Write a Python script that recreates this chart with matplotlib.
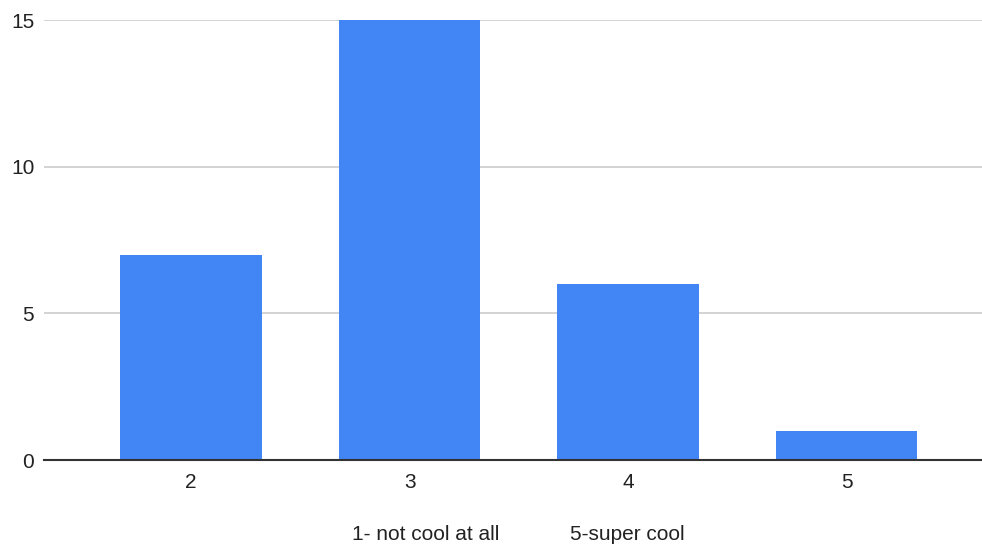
import matplotlib.pyplot as plt

plt.rcParams['font.family'] = ['Liberation Sans', 'DejaVu Sans']

ratings = ['2', '3', '4', '5']
counts = [7, 15, 6, 1]
yticks = [0, 5, 10, 15]

fig = plt.figure(figsize=(9.82, 5.46), dpi=100)
ax = fig.add_axes([44 / 982, 86 / 546, 938 / 982, 440 / 546])

x = range(len(ratings))
ax.bar(x, counts, width=0.648, color='#4285f4', zorder=3)

ax.set_xlim(-0.674, 3.62)
ax.set_ylim(0, 15)
ax.set_yticks(yticks)
ax.set_xticks(list(x))
ax.set_xticklabels(ratings)
ax.yaxis.grid(True, color='#cccccc', linewidth=1.2, zorder=0)
ax.tick_params(axis='both', length=0, labelsize=15, colors='#222222')
ax.tick_params(axis='y', pad=7)
ax.tick_params(axis='x', pad=9)

for s in ['top', 'right', 'left']:
    ax.spines[s].set_visible(False)
ax.spines['bottom'].set_color('#333333')
ax.spines['bottom'].set_linewidth(1.5)
ax.spines['bottom'].set_zorder(4)

# axis title: the two ends of the rating scale
fig.text(352 / 982, 1 - 534 / 546, '1- not cool at all', fontsize=15,
         color='#222222', va='center', ha='left')
fig.text(570 / 982, 1 - 534 / 546, '5-super cool', fontsize=15,
         color='#222222', va='center', ha='left')

fig.savefig('out.png', dpi=100)
